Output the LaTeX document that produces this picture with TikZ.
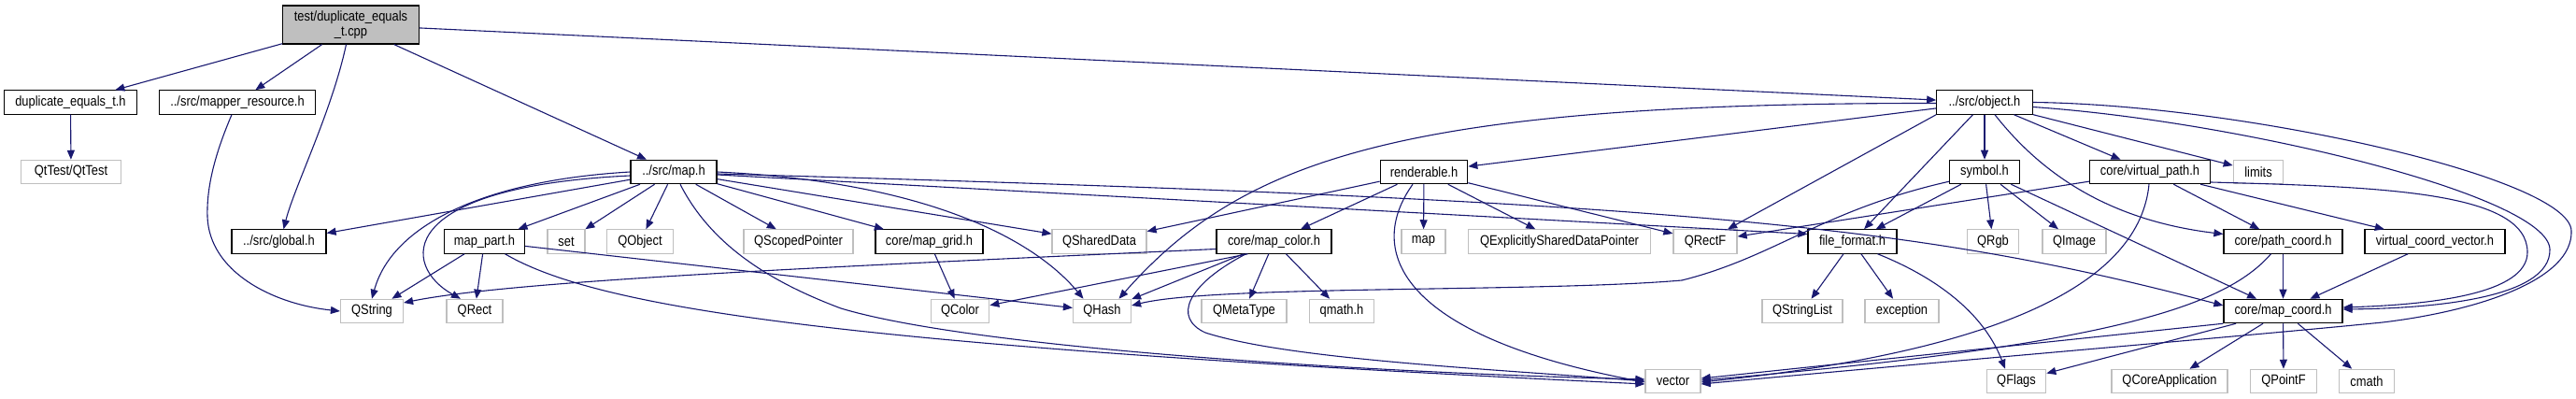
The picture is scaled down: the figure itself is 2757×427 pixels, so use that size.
\documentclass[tikz,border=0pt]{standalone}
\usepackage{fontspec}
\setmainfont{Liberation Sans}[FakeStretch=0.866]
\usetikzlibrary{arrows.meta}
\definecolor{edgecol}{HTML}{191970}
\definecolor{extgray}{HTML}{BFBFBF}
\definecolor{cppfill}{HTML}{BFBFBF}
\begin{document}
\begin{tikzpicture}[x=1pt,y=-1pt,
  box/.style={rectangle, fill=white, inner sep=0pt, minimum height=25.3pt,
    font=\fontsize{14.9}{16.5}\selectfont, line width=1.2pt},
  doc/.style={box, draw=black},
  ext/.style={box, draw=extgray},
  dep/.style={draw=edgecol, line width=1.1pt, -{Triangle[length=10pt,width=8pt]}},
]
\useasboundingbox (0,0) rectangle (2757,427);
% rank 0
\node[doc, fill=cppfill, minimum width=145.5pt, minimum height=41pt, align=center] (cpp) at (375.5,26.5) {test/duplicate\_equals\\\_t.cpp};
% rank 1
\node[doc, minimum width=142pt] (dup) at (75.5,109.5) {duplicate\_equals\_t.h};
\node[doc, minimum width=166.5pt] (mapper) at (254,109.5) {../src/mapper\_resource.h};
\node[doc, minimum width=102.5pt] (obj) at (2124,109.5) {../src/object.h};
% rank 2
\node[ext, minimum width=107pt] (qttest) at (76,184) {QtTest/QtTest};
\node[doc, minimum width=92pt] (maph) at (721,184) {../src/map.h};
\node[doc, minimum width=93.5pt] (rend) at (1524,184) {renderable.h};
\node[doc, minimum width=75pt] (sym) at (2124,184) {symbol.h};
\node[doc, minimum width=129pt] (vpath) at (2301,184) {core/virtual\_path.h};
\node[ext, minimum width=53.5pt] (limits) at (2417,184) {limits};
% rank 3
\node[doc, minimum width=101pt] (glob) at (298.5,258.5) {../src/global.h};
\node[doc, minimum width=86pt] (mpart) at (518.5,258.5) {map\_part.h};
\node[ext, minimum width=40pt] (nset) at (606,258.5) {set};
\node[ext, minimum width=70.5pt] (qobj) at (685,258.5) {QObject};
\node[ext, minimum width=117pt] (qscp) at (854.5,258.5) {QScopedPointer};
\node[doc, minimum width=115pt] (mgrid) at (994.5,258.5) {core/map\_grid.h};
\node[ext, minimum width=101pt] (qsd) at (1176.5,258.5) {QSharedData};
\node[doc, minimum width=123pt] (mcolor) at (1363.5,258.5) {core/map\_color.h};
\node[ext, minimum width=47pt] (nmap) at (1523.5,258.5) {map};
\node[ext, minimum width=194.5pt] (qesdp) at (1669,258.5) {QExplicitlySharedDataPointer};
\node[ext, minimum width=68pt] (qrectf) at (1825,258.5) {QRectF};
\node[doc, minimum width=95pt] (ffmt) at (1982.5,258.5) {file\_format.h};
\node[ext, minimum width=55.5pt] (qrgb) at (2133,258.5) {QRgb};
\node[ext, minimum width=68pt] (qimage) at (2220,258.5) {QImage};
\node[doc, minimum width=127pt] (pcoord) at (2443.5,258.5) {core/path\_coord.h};
\node[doc, minimum width=150pt] (vcv) at (2606,258.5) {virtual\_coord\_vector.h};
% rank 4
\node[ext, minimum width=67pt] (qstring) at (398,333) {QString};
\node[ext, minimum width=60pt] (qrect) at (508,333) {QRect};
\node[ext, minimum width=62.5pt] (qcolor) at (1027.5,333) {QColor};
\node[ext, minimum width=62pt] (qhash) at (1179.5,333) {QHash};
\node[ext, minimum width=91pt] (qmeta) at (1331.5,333) {QMetaType};
\node[ext, minimum width=69.5pt] (qmath) at (1436,333) {qmath.h};
\node[ext, minimum width=86pt] (qstrl) at (1929,333) {QStringList};
\node[ext, minimum width=79pt] (exc) at (2035.5,333) {exception};
\node[doc, minimum width=127pt] (mcoord) at (2443.5,333) {core/map\_coord.h};
% rank 5
\node[ext, minimum width=59pt] (nvector) at (1790.5,408) {vector};
\node[ext, minimum width=63.5pt] (qflags) at (2158,408) {QFlags};
\node[ext, minimum width=124pt] (qcoreapp) at (2322,408) {QCoreApplication};
\node[ext, minimum width=70.5pt] (qpointf) at (2444,408) {QPointF};
\node[ext, minimum width=58.5pt] (cmath) at (2533,408) {cmath};

% edges from cpp
\draw[dep] (cpp) -- (dup);
\draw[dep] (cpp) -- (mapper);
\draw[dep] ([xshift=-5pt]cpp.south) .. controls (355,120) and (315,200) .. ([xshift=5pt]glob.north);
\draw[dep] (cpp) -- (maph);
\draw[dep] (cpp) -- (obj);
\draw[dep] (dup) -- (qttest);
\draw[dep] ([xshift=-6pt]mapper.south) .. controls (230,165) and (221,200) .. (222,232) .. controls (224,290) and (290,325) .. (qstring.west);
% map.h
\draw[dep] (maph) -- (glob);
\draw[dep] (maph.west) .. controls (520,193) and (420,240) .. (qstring.north);
\draw[dep] ([yshift=-4pt]maph.west) .. controls (420,200) and (430,285) .. ([xshift=-15pt]qrect.north);
\draw[dep] (maph) -- (mpart);
\draw[dep] (maph) -- (nset);
\draw[dep] (maph) -- (qobj);
\draw[dep] (maph) -- (qscp);
\draw[dep] (maph) -- (mgrid);
\draw[dep] (maph) -- (qsd);
\draw[dep] (maph.east) .. controls (1000,195) and (1110,260) .. ([xshift=-20pt]qhash.north);
\draw[dep] ([xshift=7pt]maph.south) .. controls (760,260) and (820,300) .. (900,330) .. controls (1050,375) and (1500,400) .. ([yshift=2pt]nvector.west);
\draw[dep] ([yshift=-2pt]maph.east) .. controls (1800,215) and (2050,240) .. ([yshift=6pt]mcoord.west);
\draw[dep] ([yshift=-3pt]maph.east) -- ([yshift=8pt]ffmt.west);
% object.h
\draw[dep] (obj) -- (rend);
\draw[dep] ([yshift=-1pt]obj.west) .. controls (1500,110) and (1330,170) .. ([xshift=18pt]qhash.north);
\draw[dep] (obj.south west) -- (qrectf);
\draw[dep] (obj) -- (ffmt);
\draw[dep] (obj) -- (sym);
\draw[dep] (obj) -- (vpath);
\draw[dep] (obj) -- (limits);
\draw[dep] ([xshift=11pt]obj.south) .. controls (2180,180) and (2250,235) .. ([yshift=8pt]pcoord.west);
\draw[dep] ([yshift=-5pt]obj.east) .. controls (2400,130) and (2728,210) .. (2729,267) .. controls (2730,320) and (2600,330) .. ([yshift=2pt]mcoord.east);
\draw[dep] (obj.east) .. controls (2400,112) and (2750,190) .. (2752,247) .. controls (2754,300) and (2650,333) .. (2550,345) .. controls (2400,360) and (2100,385) .. ([yshift=-3pt]nvector.east);
% renderable.h
\draw[dep] (rend) -- (qsd);
\draw[dep] (rend) -- (mcolor);
\draw[dep] (rend) -- (nmap);
\draw[dep] (rend) -- (qesdp);
\draw[dep] (rend) -- (qrectf);
\draw[dep] ([xshift=-12pt]rend.south) .. controls (1460,270) and (1500,360) .. ([yshift=-1pt]nvector.west);
% symbol.h
\draw[dep] (sym) -- (ffmt);
\draw[dep] (sym) -- (qrgb);
\draw[dep] (sym) -- (qimage);
\draw[dep] (sym) -- (mcoord);
\draw[dep] ([yshift=3pt]sym.south west) .. controls (1950,225) and (1900,275) .. (1800,300) .. controls (1650,313) and (1300,305) .. ([yshift=6pt]qhash.east);
% virtual_path.h
\draw[dep] (vpath) -- (qrectf);
\draw[dep] (vpath) -- (pcoord);
\draw[dep] (vpath) -- (vcv);
\draw[dep] ([xshift=-1pt]vpath.south) .. controls (2290,300) and (2150,375) .. ([yshift=-1pt]nvector.east);
\draw[dep] ([yshift=-11pt]vpath.east) .. controls (2550,200) and (2705,205) .. (2705,270) .. controls (2705,315) and (2600,326) .. ([yshift=4pt]mcoord.east);
% map_part.h
\draw[dep] (mpart) -- (qstring);
\draw[dep] (mpart) -- (qrect);
\draw[dep] (mpart) -- (qhash);
\draw[dep] ([xshift=22pt]mpart.south) .. controls (640,330) and (900,370) .. ([yshift=-3pt]nvector.west);
% map_grid.h
\draw[dep] (mgrid) -- (qcolor);
% map_color.h
\draw[dep] ([yshift=-8pt]mcolor.west) .. controls (900,285) and (550,300) .. ([yshift=9pt]qstring.east);
\draw[dep] ([xshift=-28pt]mcolor.south) -- (qcolor);
\draw[dep] (mcolor) -- (qhash);
\draw[dep] (mcolor) -- (qmeta);
\draw[dep] (mcolor) -- (qmath);
\draw[dep] ([xshift=-30pt]mcolor.south) .. controls (1270,305) and (1255,340) .. (1290,356) .. controls (1380,385) and (1600,395) .. (nvector.west);
% file_format.h
\draw[dep] (ffmt) -- (qstrl);
\draw[dep] (ffmt) -- (exc);
\draw[dep] ([xshift=27pt]ffmt.south) .. controls (2080,300) and (2125,340) .. ([xshift=-12pt]qflags.north);
% path_coord.h, virtual_coord_vector.h
\draw[dep] (pcoord) -- (mcoord);
\draw[dep] ([xshift=-13pt]pcoord.south) .. controls (2380,330) and (2250,370) .. ([yshift=1pt]nvector.east);
\draw[dep] (vcv) -- (mcoord);
% map_coord.h
\draw[dep] (mcoord.south west) -- ([yshift=3pt]nvector.east);
\draw[dep] (mcoord) -- (qflags);
\draw[dep] (mcoord) -- (qcoreapp);
\draw[dep] (mcoord) -- (qpointf);
\draw[dep] (mcoord) -- (cmath);
\end{tikzpicture}
\end{document}
